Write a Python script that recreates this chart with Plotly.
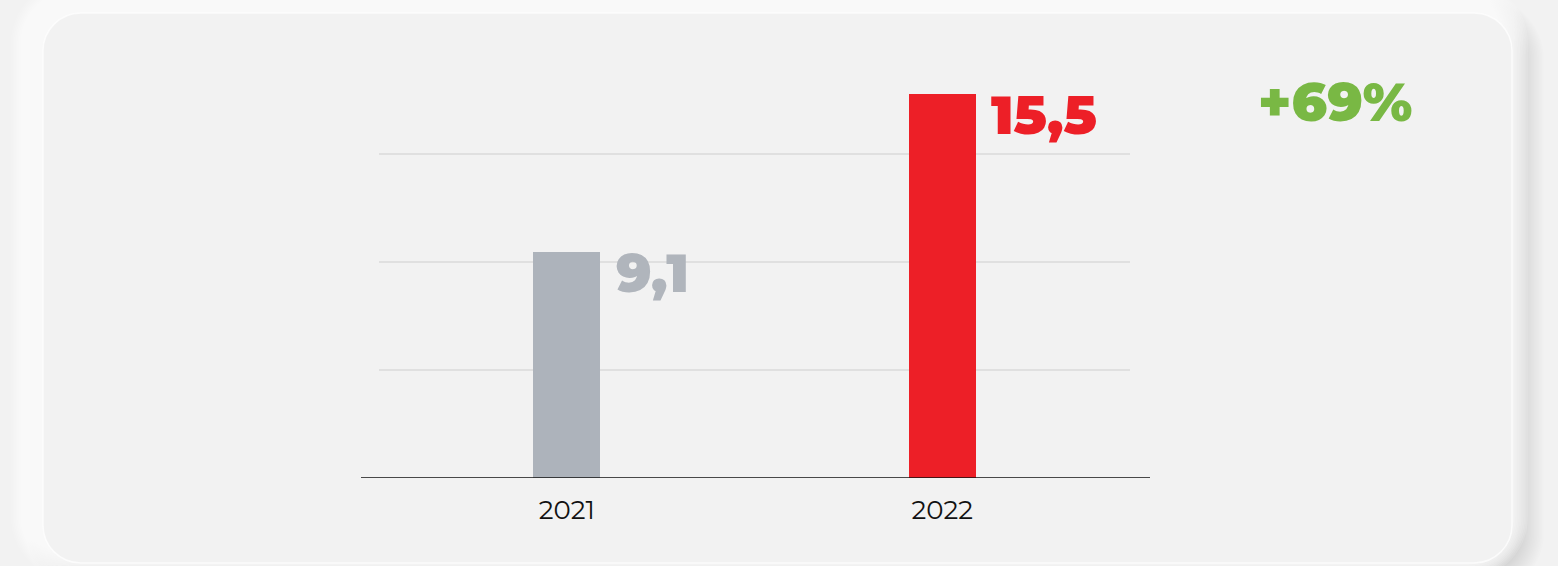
import plotly.graph_objects as go

# ---- data ----
YEARS = ["2021", "2022"]
VALUES = [9.1, 15.5]
BAR_COLORS = ["#adb3bb", "#ed1f27"]
LABEL_COLORS = ["#b0b5bc", "#ed1f27"]
GRID_VALUES = [4.36, 8.71, 13.07]
CHANGE_LABEL = "+69%"

W, H = 1558, 566
ML, MR, MT, MB = 379, 428, 53, 88
PW, PH = W - ML - MR, H - MT - MB


def px(x):
    return (x - ML) / PW


def py(y):
    return (H - MB - y) / PH


def rrect(x0, y0, x1, y1, r):
    k = 0.5523 * r
    pts = [
        ("M", [(x0 + r, y0)]),
        ("L", [(x1 - r, y0)]),
        ("C", [(x1 - r + k, y0), (x1, y0 + r - k), (x1, y0 + r)]),
        ("L", [(x1, y1 - r)]),
        ("C", [(x1, y1 - r + k), (x1 - r + k, y1), (x1 - r, y1)]),
        ("L", [(x0 + r, y1)]),
        ("C", [(x0 + r - k, y1), (x0, y1 - r + k), (x0, y1 - r)]),
        ("L", [(x0, y0 + r)]),
        ("C", [(x0, y0 + r - k), (x0 + r - k, y0), (x0 + r, y0)]),
    ]
    s = ""
    for cmd, ps in pts:
        s += cmd + " " + " ".join(f"{px(a):.5f},{py(b):.5f}" for a, b in ps) + " "
    return s + "Z"


shapes = []
CX0, CY0, CX1, CY1, CR = 43, 13, 1512, 563, 38
# dark shadow (bottom-right)
for i in range(16):
    e = i * 1.6
    shapes.append(dict(type="path", xref="paper", yref="paper", layer="below",
                       path=rrect(CX0 + 8 - e, CY0 + 8 - e, CX1 + 8 + e, CY1 + 8 + e, CR + e),
                       fillcolor="rgba(0,0,0,0.006)", line=dict(width=0)))
# light glow (top-left)
for i in range(16):
    e = i * 1.6
    shapes.append(dict(type="path", xref="paper", yref="paper", layer="below",
                       path=rrect(CX0 - 8 - e, CY0 - 8 - e, CX1 - 8 + e, CY1 - 8 + e, CR + e),
                       fillcolor="rgba(255,255,255,0.14)", line=dict(width=0)))
# card
shapes.append(dict(type="path", xref="paper", yref="paper", layer="below",
                   path=rrect(CX0, CY0, CX1, CY1, CR),
                   fillcolor="#f2f2f2", line=dict(color="rgba(255,255,255,0.7)", width=1.5)))
# baseline axis
shapes.append(dict(type="line", xref="paper", yref="y", layer="above",
                   x0=px(361), x1=px(1150), y0=0, y1=0,
                   line=dict(color="#111111", width=1.5)))

fig = go.Figure()
fig.add_trace(go.Bar(x=YEARS, y=VALUES, marker=dict(color=BAR_COLORS, line=dict(width=0)),
                     width=0.178, hoverinfo="skip"))

annotations = []
for i, (v, c) in enumerate(zip(VALUES, LABEL_COLORS)):
    annotations.append(dict(x=i, y=v, xref="x", yref="y", xanchor="left", yanchor="top",
                            xshift=47, yshift=14, showarrow=False,
                            text=f"{v:.1f}".replace(".", ","),
                            font=dict(family="Montserrat, Inter, Lato, sans-serif", size=54,
                                      color=c, weight=900)))
annotations.append(dict(x=px(1335), y=py(102), xref="paper", yref="paper",
                        xanchor="center", yanchor="middle", showarrow=False,
                        text=CHANGE_LABEL,
                        font=dict(family="Montserrat, Inter, Lato, sans-serif", size=54,
                                  color="#79b844", weight=900)))

fig.update_layout(
    width=W, height=H,
    margin=dict(l=ML, r=MR, t=MT, b=MB, pad=0),
    paper_bgcolor="#f2f2f2", plot_bgcolor="rgba(0,0,0,0)",
    showlegend=False,
    shapes=shapes, annotations=annotations,
    bargap=0,
    xaxis=dict(type="category", range=[-0.5, 1.5], showgrid=False, showline=False,
               zeroline=False, ticks="", ticklabelstandoff=14,
               tickfont=dict(family="Montserrat, Inter, sans-serif", size=26, color="#111111")),
    yaxis=dict(range=[0, 17.15], tickvals=GRID_VALUES, showticklabels=False, showgrid=True,
               gridcolor="#e0e0e0", gridwidth=2, zeroline=False, showline=False, fixedrange=True),
)

fig.write_html("out.html")
